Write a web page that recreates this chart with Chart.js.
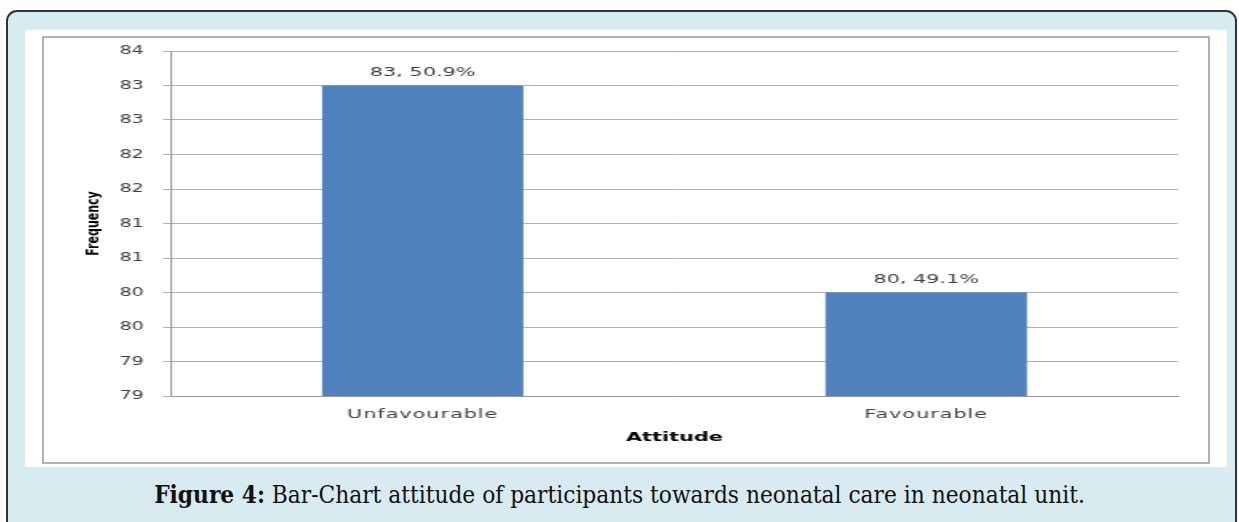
<!DOCTYPE html>
<html>
<head>
<meta charset="utf-8">
<script src="https://cdn.jsdelivr.net/npm/chart.js@4/dist/chart.umd.min.js"></script>
<style>
  html, body { margin: 0; padding: 0; background: #ffffff; }
  body { width: 1239px; height: 522px; position: relative; overflow: hidden; }
  .panel {
    position: absolute; left: 6px; top: 10px; width: 1231px; height: 540px;
    background: #d7ebf1; border: 2px solid #333333; border-radius: 11px; box-sizing: border-box;
  }
  .sheet {
    position: absolute; left: 25px; top: 30px; width: 1202px; height: 437px; background: #ffffff;
  }
  .frame {
    position: absolute; left: 42px; top: 36px; width: 1168px; height: 428px;
    border: 2px solid #b2b2b2; box-sizing: border-box; background: #ffffff;
  }
  .caption {
    position: absolute; left: 0; top: 480px; width: 1239px; text-align: center;
    font-family: "DejaVu Serif Condensed", "DejaVu Serif", serif; font-stretch: condensed;
    font-size: 24.2px; line-height: 30px; color: #111111;
  }
  .caption b { font-weight: bold; }
</style>
</head>
<body>
<div class="panel"></div>
<div class="sheet"></div>
<div class="frame"><canvas id="chart" width="728" height="424" style="display:block;width:1164px;height:424px;"></canvas></div>
<div class="caption"><b>Figure 4:</b> Bar-Chart attitude of participants towards neonatal care in neonatal unit.</div>
<script>
// Attitude groups and their counts / shares
const categories = ['Unfavourable', 'Favourable'];
const frequency = [83, 80];
const percent = [50.9, 49.1];

// Value axis: half-unit steps, labels shown rounded to whole numbers
const yTickValues = [78.5, 79, 79.5, 80, 80.5, 81, 81.5, 82, 82.5, 83, 83.5];
const yTickLabels = ['79', '79', '80', '80', '81', '81', '82', '82', '83', '83', '84'];

const FONT = '"DejaVu Sans", Verdana, sans-serif';

// Category axis whose labels are drawn with a little letter spacing
class SpacedCategoryScale extends Chart.CategoryScale {
  drawLabels(chartArea) {
    const ctx = this.ctx;
    ctx.save();
    ctx.letterSpacing = '0.6px';
    super.drawLabels(chartArea);
    ctx.restore();
  }
}
SpacedCategoryScale.id = 'spacedCategory';
SpacedCategoryScale.defaults = Chart.CategoryScale.defaults;
Chart.register(SpacedCategoryScale);

// "count, share%" label above each bar
const barValueLabels = {
  id: 'barValueLabels',
  afterDatasetsDraw(chart) {
    const ctx = chart.ctx;
    const meta = chart.getDatasetMeta(0);
    ctx.save();
    ctx.font = '13px ' + FONT;
    ctx.fillStyle = '#404040';
    ctx.textAlign = 'center';
    ctx.textBaseline = 'alphabetic';
    meta.data.forEach((bar, i) => {
      ctx.fillText(frequency[i] + ', ' + percent[i].toFixed(1) + '%', bar.x, bar.y - 10);
    });
    ctx.restore();
  }
};

new Chart(document.getElementById('chart'), {
  type: 'bar',
  data: {
    labels: categories,
    datasets: [{
      data: frequency,
      backgroundColor: '#4f81bd',
      borderWidth: 0,
      barPercentage: 0.4,
      categoryPercentage: 1.0
    }]
  },
  options: {
    responsive: false,
    maintainAspectRatio: false,
    animation: false,
    devicePixelRatio: 1,
    layout: { padding: { top: 13, right: 18.8, left: 0, bottom: 0 } },
    plugins: { legend: { display: false }, tooltip: { enabled: false } },
    scales: {
      x: {
        type: 'spacedCategory',
        grid: { display: false, drawTicks: false },
        border: { display: true, color: '#9a9a9a', width: 1 },
        ticks: { font: { family: FONT, size: 13 }, color: '#404040', padding: 11, maxRotation: 0, minRotation: 0, autoSkip: false },
        title: { display: true, text: 'Attitude', color: '#000000', font: { family: FONT, size: 13, weight: 'bold' }, padding: { top: 0, bottom: 17 } },
        afterFit(scale) { scale.height = 66; scale.paddingLeft = 0; scale.paddingRight = 0; }
      },
      y: {
        min: 78.5,
        max: 83.5,
        grid: { color: '#b0b0b0', lineWidth: 1, drawTicks: true, tickLength: 5 },
        border: { display: true, color: '#9a9a9a', width: 1 },
        afterBuildTicks(scale) { scale.ticks = yTickValues.map(v => ({ value: v })); },
        ticks: {
          font: { family: FONT, size: 12 }, color: '#404040', padding: 12,
          callback: (value, index) => yTickLabels[index]
        },
        title: { display: true, text: 'Frequency', color: '#000000', font: { family: FONT, size: 11, weight: 'bold' }, padding: { top: 25, bottom: 0 } },
        afterFit(scale) { scale.width = 79.4; scale.paddingTop = 0; scale.paddingBottom = 0; }
      }
    }
  },
  plugins: [barValueLabels]
});
</script>
</body>
</html>
